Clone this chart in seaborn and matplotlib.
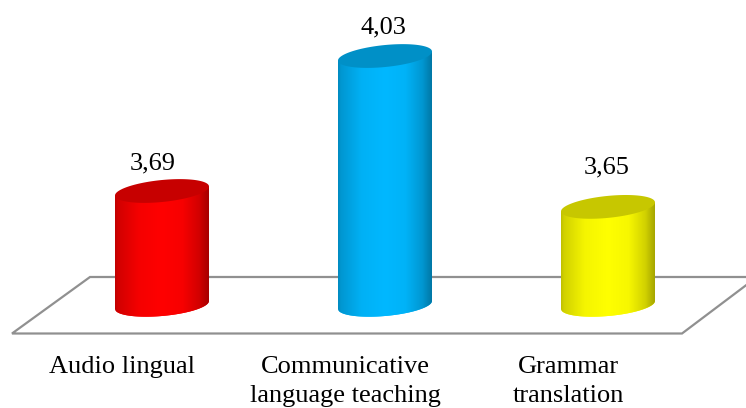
import numpy as np
import pandas as pd
import matplotlib
matplotlib.use('Agg')
import matplotlib.pyplot as plt
from matplotlib.lines import Line2D
from matplotlib.path import Path
from matplotlib.patches import PathPatch
from matplotlib.colors import to_rgb
import seaborn as sns

# Datos
categories = ['Audio lingual', 'Communicative\nlanguage teaching', 'Grammar\ntranslation']
values = [3.69, 4.03, 3.65]
colors = ['#ff0000', '#00b8ff', '#ffff00']

# Escala de pixeles a datos
W, H, AX_H = 746, 408, 350
PX_X = 223.0
PX_Y = 397.0
BASE = 3.69 - 114 / PX_Y

sns.set_theme(style='white')
plt.rcParams['font.family'] = ['Liberation Serif', 'DejaVu Serif']

fig = plt.figure(figsize=(W / 100, H / 100), dpi=100)
ax = fig.add_axes([0, (H - AX_H) / H, 1, AX_H / H])
ax.patch.set_alpha(0)

df = pd.DataFrame({'metodo': categories, 'valor': values})
sns.barplot(data=df, x='metodo', y='valor', hue='metodo', palette=colors,
            width=94 / PX_X, legend=False, errorbar=None, saturation=1, ax=ax)

# Plano del suelo
def floor_line(xs, ys):
    fig.add_artist(Line2D(np.array(xs) / W, 1 - np.array(ys) / H, color='#909090',
                          lw=1.6, zorder=0, solid_joinstyle='miter'))

floor_line([746, 90, 12, 682, 757], [277, 277, 333.5, 333.5, 277])

# Cilindros
t = np.linspace(0, 2 * np.pi, 121)
stops = [0, 0.03, 0.25, 0.5, 0.72, 0.9, 1]
shade = [0.75, 0.82, 0.96, 1, 0.97, 0.82, 0.65]
label_dx = [-9, -2, -1]
label_dy = [28, 29, 39]

for i, bar in enumerate(ax.patches[:len(values)]):
    x0 = bar.get_x()
    bw = bar.get_width()
    cx = x0 + bw / 2
    top = bar.get_height()
    a = bw / 2
    rim_b = 11 / PX_Y
    rim_s = 4.5 / PX_Y
    base_s = 4 / PX_Y

    # cuerpo: borde inferior de la base y borde superior
    u = np.linspace(np.pi, 2 * np.pi, 60)
    low_x = cx + a * np.cos(u)
    low_y = BASE + rim_b * np.sin(u) + base_s * np.cos(u)
    up_x = low_x[::-1]
    up_y = top + rim_s * np.cos(u[::-1])
    body = np.column_stack([np.r_[low_x, up_x], np.r_[low_y, up_y]])
    body_path = Path(np.vstack([body, body[0]]), closed=True)

    bar.set_clip_path(PathPatch(body_path, transform=ax.transData))

    rgb = np.array(to_rgb(colors[i]))
    ramp = np.interp(np.linspace(0, 1, 200), stops, shade)
    img = (ramp[:, None] * rgb[None, :])[None, :, :]
    im = ax.imshow(img, extent=[x0, x0 + bw, BASE - 0.05, top + 0.05],
                   aspect='auto', zorder=3, interpolation='bilinear')
    im.set_clip_path(PathPatch(body_path, transform=ax.transData))

    # tapa superior
    rim_x = cx + a * np.cos(t)
    rim_y = top + rim_b * np.sin(t) + rim_s * np.cos(t)
    ax.fill(rim_x, rim_y, color=rgb * 0.78, lw=0, zorder=4)

    txt = f'{values[i]:.2f}'.replace('.', ',')
    ax.annotate(txt, (cx, top), xytext=(label_dx[i] * 0.72, label_dy[i] * 0.72),
                textcoords='offset points', ha='center', va='center',
                fontsize=19, color='black', zorder=5)

ax.set_xlim(-162 / PX_X, (W - 162) / PX_X)
ax.set_ylim(3.69 - (AX_H - 191) / PX_Y, 3.69 + 191 / PX_Y)

# Ejes
ax.set_xticks(np.arange(len(categories)) - 40 / PX_X)
ax.set_xticklabels(categories, fontsize=19, color='black', linespacing=1.4)
ax.tick_params(axis='x', length=0, pad=4.5)
ax.set_yticks([])
ax.set_xlabel('')
ax.set_ylabel('')
sns.despine(ax=ax, left=True, bottom=True)

fig.savefig('out.png', dpi=100)
